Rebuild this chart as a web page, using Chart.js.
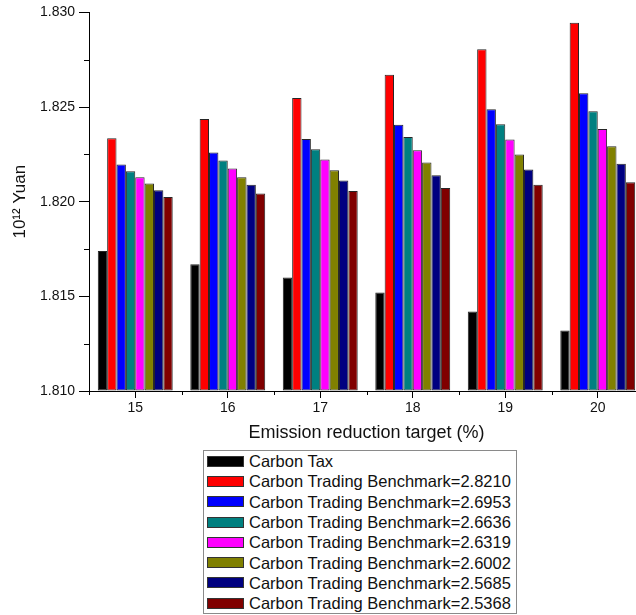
<!DOCTYPE html>
<html>
<head>
<meta charset="utf-8">
<script src="https://cdn.jsdelivr.net/npm/chart.js@4/dist/chart.umd.min.js"></script>
<style>
  html, body { margin: 0; padding: 0; background: #fff; }
  body { width: 636px; height: 615px; overflow: hidden; position: relative; font-family: 'Liberation Sans', Arial, sans-serif; }
  #wrap { position: absolute; left: 0; top: 0; width: 660px; height: 450px; }
  #legend {
    position: absolute; left: 203px; top: 450px; width: 314px; height: 164px;
    box-sizing: border-box; border: 1px solid #8a8a8a; background: #fff; padding-top: 0;
  }
  .row { display: flex; align-items: center; height: 20.3px; }
  .sw { width: 37px; height: 11px; box-sizing: border-box; border: 1px solid #333; margin-left: 3px; margin-right: 5px; }
  .lbl { font-size: 16.5px; line-height: 18px; color: #111; white-space: nowrap; }
</style>
</head>
<body>
<div id="wrap"><canvas id="chart" width="660" height="450"></canvas></div>
<div id="legend"></div>
<script>
// emission reduction target (%)
const categories = ['15', '16', '17', '18', '19', '20'];

const seriesNames = [
  'Carbon Tax',
  'Carbon Trading Benchmark=2.8210',
  'Carbon Trading Benchmark=2.6953',
  'Carbon Trading Benchmark=2.6636',
  'Carbon Trading Benchmark=2.6319',
  'Carbon Trading Benchmark=2.6002',
  'Carbon Trading Benchmark=2.5685',
  'Carbon Trading Benchmark=2.5368'
];
const seriesColors = ['#000000', '#ff0000', '#0000ff', '#008080', '#ff00ff', '#808000', '#000080', '#800000'];

// values in 10^12 Yuan
const carbonTax   = [1.8174, 1.8167, 1.8160, 1.8152, 1.8142, 1.8132];
const bench28210  = [1.82335, 1.82437, 1.82548, 1.82671, 1.82805, 1.82945];
const bench26953  = [1.82196, 1.82260, 1.82331, 1.82407, 1.82488, 1.82573];
const bench26636  = [1.82161, 1.82217, 1.82277, 1.82342, 1.82409, 1.82478];
const bench26319  = [1.82129, 1.82175, 1.82223, 1.82272, 1.82328, 1.82384];
const bench26002  = [1.82096, 1.82129, 1.82166, 1.82207, 1.82249, 1.82293];
const bench25685  = [1.82061, 1.82089, 1.82112, 1.82140, 1.82170, 1.82200];
const bench25368  = [1.82025, 1.82043, 1.82057, 1.82073, 1.82090, 1.82103];
const seriesValues = [carbonTax, bench28210, bench26953, bench26636, bench26319, bench26002, bench25685, bench25368];

const yMin = 1.810;
const yMax = 1.830;
const yStep = 0.005;

Chart.defaults.font.family = "'Liberation Sans', Arial, sans-serif";
Chart.defaults.color = '#111';

// short minor tick marks (between groups on x, half steps on y)
const minorTicks = {
  id: 'minorTicks',
  afterDraw(chart) {
    const ctx = chart.ctx;
    const x = chart.scales.x, y = chart.scales.y;
    ctx.save();
    ctx.strokeStyle = '#000';
    ctx.lineWidth = 1;
    ctx.beginPath();
    for (let i = 0; i <= categories.length; i++) {
      const px = Math.round(x.getPixelForValue(i - 0.5)) + 0.5;
      ctx.moveTo(px, y.bottom);
      ctx.lineTo(px, y.bottom + 4);
    }
    for (let v = yMin + yStep / 2; v < yMax; v += yStep) {
      const py = Math.round(y.getPixelForValue(v)) + 0.5;
      ctx.moveTo(x.left - 5, py);
      ctx.lineTo(x.left, py);
    }
    ctx.stroke();
    ctx.restore();
  }
};

const datasets = seriesNames.map((name, i) => ({
  label: name,
  data: seriesValues[i],
  backgroundColor: seriesColors[i],
  borderColor: '#262626',
  borderWidth: 1,
  borderSkipped: false,
  base: yMin
}));

const chart = new Chart(document.getElementById('chart'), {
  type: 'bar',
  data: { labels: categories, datasets: datasets },
  options: {
    responsive: false,
    animation: false,
    devicePixelRatio: 1,
    layout: { padding: { top: 12, right: 16, bottom: 0, left: 0 } },
    datasets: { bar: { categoryPercentage: 0.81, barPercentage: 1 } },
    plugins: { legend: { display: false }, tooltip: { enabled: false } },
    scales: {
      x: {
        grid: { offset: false, drawOnChartArea: false, drawTicks: true, tickLength: 7, color: '#000' },
        border: { display: true, color: '#000', width: 1 },
        ticks: { font: { size: 14 }, padding: 2, maxRotation: 0 },
        title: { display: true, text: 'Emission reduction target (%)', font: { size: 18 }, padding: { top: 0, bottom: 6 } },
        afterFit(scale) { scale.height = 59; }
      },
      y: {
        min: yMin,
        max: yMax,
        grid: { drawOnChartArea: false, drawTicks: true, tickLength: 10, color: '#000' },
        border: { display: true, color: '#000', width: 1 },
        ticks: {
          stepSize: yStep,
          font: { size: 14 },
          padding: 4,
          callback: v => Number(v).toFixed(3)
        },
        title: { display: true, text: '10¹² Yuan', font: { size: 17 }, padding: { top: 10, bottom: 0 } },
        afterFit(scale) { scale.width = 89; }
      }
    }
  },
  plugins: [minorTicks]
});

// legend box under the plot, built from the chart's datasets
const legendBox = document.getElementById('legend');
chart.data.datasets.forEach(ds => {
  const row = document.createElement('div');
  row.className = 'row';
  row.innerHTML = `<span class="sw" style="background:${ds.backgroundColor}"></span><span class="lbl">${ds.label}</span>`;
  legendBox.appendChild(row);
});
</script>
</body>
</html>
